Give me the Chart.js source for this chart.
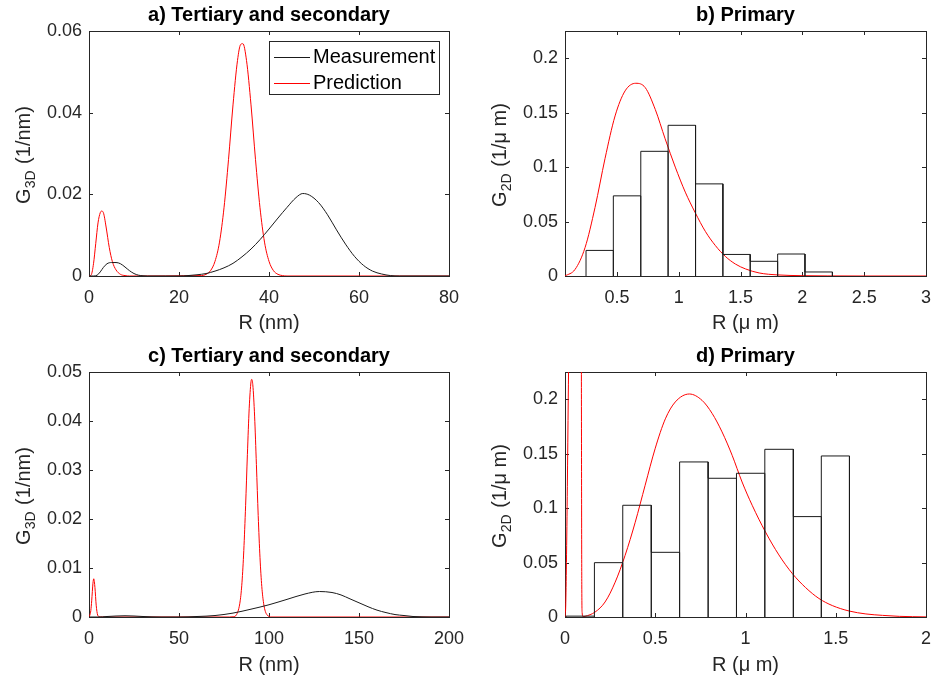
<!DOCTYPE html>
<html>
<head>
<meta charset="utf-8">
<script src="https://cdn.jsdelivr.net/npm/chart.js@4.4.1/dist/chart.umd.min.js"></script>
<style>
html, body { margin: 0; padding: 0; background: #fff; }
#wrap { position: relative; width: 933px; height: 681px; }
canvas { position: absolute; }
</style>
</head>
<body>
<div id="wrap">
	<canvas id="ca" width="466" height="340" style="left:0;top:0"></canvas>
	<canvas id="cb" width="467" height="340" style="left:466px;top:0"></canvas>
	<canvas id="cc" width="466" height="341" style="left:0;top:340px"></canvas>
	<canvas id="cd" width="467" height="341" style="left:466px;top:340px"></canvas>
</div>
<script>
// a) tertiary and secondary, R in nm
const aMeasR = [0, 1, 1.8, 2.5, 3.2, 4, 5, 6, 7, 8, 9, 10, 11, 12, 13, 20, 22, 24, 26, 28, 30, 32, 34, 36, 38, 40, 42, 44, 46, 47.5, 49, 51, 53, 55, 57, 59, 61, 63, 65, 67, 69, 80];
const aMeasG = [0, 0, 0.0002, 0.001, 0.0021, 0.003, 0.0033, 0.0033, 0.003, 0.0022, 0.0013, 0.0006, 0.0002, 0.00005, 0, 0, 0.0001, 0.0003, 0.0006, 0.0012, 0.002, 0.0031, 0.0047, 0.0066, 0.0089, 0.0115, 0.0142, 0.0168, 0.0192, 0.0202, 0.0198, 0.018, 0.015, 0.0113, 0.0078, 0.0048, 0.0026, 0.0012, 0.0005, 0.0001, 0, 0];
const aPredR = [0, 0.5, 1, 1.5, 2, 2.5, 2.8, 3.2, 3.8, 4.5, 5.2, 6, 7, 8, 9, 25, 26, 27, 28, 29, 30, 31, 32, 33, 33.7, 34.2, 35, 36, 37, 38, 39, 40, 41, 42, 43, 44, 80];
const aPredG = [0, 0.0003, 0.003, 0.008, 0.013, 0.0155, 0.0159, 0.0155, 0.012, 0.007, 0.0035, 0.0015, 0.0004, 0.0001, 0, 0.0001, 0.0004, 0.0013, 0.0036, 0.0083, 0.0167, 0.0285, 0.0419, 0.0528, 0.0567, 0.0569, 0.0528, 0.0419, 0.0285, 0.0167, 0.0083, 0.0036, 0.0013, 0.0004, 0.0001, 0, 0];
const aXTicks = [0, 20, 40, 60, 80];
const aYTicks = [0, 0.02, 0.04, 0.06];

// b) primary, R in um
const bEdges = [0.250, 0.471, 0.693, 0.914, 1.136, 1.357, 1.578, 1.800, 2.021, 2.243];
const bHeights = [0.0235, 0.0736, 0.1145, 0.1384, 0.0846, 0.0198, 0.0135, 0.0202, 0.0037];
const bPredR = [0.08, 0.161, 0.242, 0.323, 0.404, 0.485, 0.566, 0.653, 0.729, 0.81, 0.89, 0.972, 1.053, 1.134, 1.215, 1.296, 1.377, 1.458, 1.54, 1.65, 1.8, 2.0, 2.2, 2.5, 3.0];
const bPredG = [0, 0.006, 0.026, 0.063, 0.108, 0.147, 0.170, 0.177, 0.173, 0.153, 0.126, 0.100, 0.077, 0.058, 0.041, 0.028, 0.018, 0.011, 0.0065, 0.0028, 0.001, 0.0003, 0.0001, 0, 0];
const bXTicks = [0.5, 1, 1.5, 2, 2.5, 3];
const bYTicks = [0, 0.05, 0.1, 0.15, 0.2];

// c) tertiary and secondary, R in nm
const cMeasR = [0, 5, 10, 15, 20, 25, 30, 35, 40, 50, 60, 70, 80, 90, 100, 110, 120, 128, 135, 140, 145, 150, 155, 160, 165, 170, 175, 180, 185, 190, 200];
const cMeasG = [0, 0, 0.0001, 0.0002, 0.00025, 0.0002, 0.0001, 0.00003, 0, 0, 0.0001, 0.0003, 0.0008, 0.0016, 0.0025, 0.0036, 0.0047, 0.0052, 0.005, 0.0045, 0.0037, 0.0029, 0.0021, 0.0014, 0.0009, 0.0005, 0.0003, 0.0001, 0.00003, 0, 0];
const cPredR = [0, 0.5, 1, 1.5, 2.2, 2.65, 3.3, 4, 4.8, 5.5, 6.5, 78, 80, 82, 84, 85, 86, 87, 88, 89, 90, 90.4, 91, 92, 93, 94, 95, 96, 97, 98, 99, 100, 101, 200];
const cPredG = [0, 0.0004, 0.0013, 0.0033, 0.0069, 0.0078, 0.006, 0.0024, 0.0004, 0.0001, 0, 0, 0.00004, 0.0005, 0.0033, 0.0071, 0.0136, 0.0227, 0.0332, 0.0426, 0.048, 0.0485, 0.0474, 0.041, 0.0311, 0.0207, 0.0121, 0.0062, 0.0028, 0.0011, 0.0004, 0.0001, 0, 0];
const cXTicks = [0, 50, 100, 150, 200];
const cYTicks = [0, 0.01, 0.02, 0.03, 0.04, 0.05];

// d) primary, R in um
const dEdges = [0.006, 0.163, 0.320, 0.478, 0.635, 0.793, 0.950, 1.107, 1.265, 1.420, 1.576];
const dHeights = [0.0008, 0.0499, 0.1026, 0.0594, 0.1424, 0.1274, 0.132, 0.154, 0.0922, 0.1479];
const dPredR = [0, 0.004, 0.008, 0.013, 0.018, 0.025, 0.05, 0.088, 0.091, 0.093, 0.095, 0.1, 0.111, 0.167, 0.222, 0.278, 0.333, 0.389, 0.444, 0.5, 0.556, 0.611, 0.689, 0.759, 0.815, 0.87, 0.926, 0.981, 1.037, 1.111, 1.185, 1.259, 1.333, 1.407, 1.481, 1.574, 1.667, 1.759, 1.852, 2.0];
const dPredG = [0, 0.01, 0.05, 0.12, 0.2, 0.3, 0.6, 0.6, 0.2, 0.03, 0.004, 0.0003, 0.0006, 0.0046, 0.0138, 0.032, 0.0566, 0.087, 0.121, 0.155, 0.182, 0.1975, 0.2048, 0.199, 0.187, 0.17, 0.1485, 0.124, 0.1026, 0.078, 0.057, 0.040, 0.027, 0.017, 0.0105, 0.0055, 0.0028, 0.0015, 0.0006, 0.0001];
const dXTicks = [0, 0.5, 1, 1.5, 2];
const dYTicks = [0, 0.05, 0.1, 0.15, 0.2];

const FONT = '"Liberation Sans", Arial, Helvetica, sans-serif';
const AXIS = '#262626';
const MEAS_COLOR = '#1a1a1a';
const PRED_COLOR = '#ff0000';

Chart.defaults.font.family = FONT;
Chart.defaults.color = AXIS;

const zip = (xs, ys) => xs.map((x, i) => ({ x: x, y: ys[i] }));

// outline of a histogram, every bar edge goes down to zero
function histOutline(edges, heights) {
	let pts = [];
	heights.forEach((h, i) => {
		pts.push({ x: edges[i], y: 0 }, { x: edges[i], y: h }, { x: edges[i + 1], y: h }, { x: edges[i + 1], y: 0 });
	});
	return pts;
}

// matlab style box with inward ticks on all sides, title centred on the axes
const boxPlugin = {
	id: 'box',
	beforeDatasetsDraw(chart, args, o) {
		const { ctx, chartArea: a, scales } = chart;
		const x = scales.x, y = scales.y;
		ctx.save();
		ctx.strokeStyle = AXIS;
		ctx.lineWidth = 1;
		ctx.beginPath();
		x.ticks.forEach(t => {
			const px = Math.round(x.getPixelForValue(t.value)) + 0.5;
			ctx.moveTo(px, a.bottom); ctx.lineTo(px, a.bottom - 4);
			ctx.moveTo(px, a.top); ctx.lineTo(px, a.top + 4);
		});
		y.ticks.forEach(t => {
			const py = Math.round(y.getPixelForValue(t.value)) + 0.5;
			ctx.moveTo(a.left, py); ctx.lineTo(a.left + 4, py);
			ctx.moveTo(a.right, py); ctx.lineTo(a.right - 4, py);
		});
		ctx.stroke();
		ctx.strokeRect(a.left + 0.5, a.top + 0.5, a.right - a.left, a.bottom - a.top);

		ctx.fillStyle = '#000';
		ctx.font = 'bold 20px ' + FONT;
		ctx.textAlign = 'center';
		ctx.textBaseline = 'middle';
		ctx.fillText(o.text, (a.left + a.right) / 2, o.y);
		ctx.restore();
	}
};

// rotated y label with a subscript
const yLabelPlugin = {
	id: 'ylab',
	afterDraw(chart, args, o) {
		if (!o.main) return;
		const { ctx, chartArea: a } = chart;
		const big = '20px ' + FONT, small = '14px ' + FONT;
		ctx.save();
		ctx.translate(a.left - 65, (a.top + a.bottom) / 2 + 2);
		ctx.rotate(-Math.PI / 2);
		ctx.font = big;
		const w1 = ctx.measureText(o.main).width;
		const w3 = ctx.measureText(o.rest).width;
		ctx.font = small;
		const w2 = ctx.measureText(o.sub).width;
		const x0 = -(w1 + w2 + w3) / 2;
		ctx.fillStyle = AXIS;
		ctx.textBaseline = 'middle';
		ctx.font = big;
		ctx.fillText(o.main, x0, 0);
		ctx.font = small;
		ctx.fillText(o.sub, x0 + w1, 7);
		ctx.font = big;
		ctx.fillText(o.rest, x0 + w1 + w2 + 1, 0);
		ctx.restore();
	}
};

// legend box in the upper right of the axes
const legendPlugin = {
	id: 'legbox',
	afterDatasetsDraw(chart, args, o) {
		if (!o.show) return;
		const { ctx, chartArea: a } = chart;
		const w = 170, h = 53;
		const left = a.right - 10 - w, top = a.top + 10;
		ctx.save();
		ctx.fillStyle = '#fff';
		ctx.fillRect(left, top, w, h);
		ctx.strokeStyle = AXIS;
		ctx.lineWidth = 1;
		ctx.strokeRect(left + 0.5, top + 0.5, w, h);
		ctx.font = '20px ' + FONT;
		ctx.textBaseline = 'middle';
		chart.data.datasets.forEach((ds, i) => {
			const yy = top + 16 + i * 26 + 0.5;
			ctx.strokeStyle = i === 0 ? MEAS_COLOR : PRED_COLOR;
			ctx.lineWidth = 1;
			ctx.beginPath();
			ctx.moveTo(left + 5, yy);
			ctx.lineTo(left + 41, yy);
			ctx.stroke();
			ctx.fillStyle = '#000';
			ctx.fillText(ds.label, left + 44, yy);
		});
		ctx.restore();
	}
};

function makeChart(id, p) {
	const ctx = document.getElementById(id);
	return new Chart(ctx, {
		type: 'line',
		data: { datasets: p.datasets },
		plugins: [boxPlugin, yLabelPlugin, legendPlugin],
		options: {
			responsive: false,
			animation: false,
			devicePixelRatio: 1,
			layout: { padding: { left: 0, right: p.padRight, top: p.padTop, bottom: 0 } },
			elements: { point: { radius: 0 }, line: { borderWidth: 1, tension: 0 } },
			plugins: {
				legend: { display: false },
				tooltip: { enabled: false },
				title: { display: false },
				box: { text: p.title, y: p.titleY },
				ylab: p.ylab,
				legbox: { show: p.legend },
			},
			scales: {
				x: {
					type: 'linear',
					min: p.xMin,
					max: p.xMax,
					grid: { display: false, drawTicks: false },
					border: { display: false },
					ticks: { font: { size: 18 }, padding: 11, maxRotation: 0, callback: v => String(v) },
					afterBuildTicks: s => { s.ticks = p.xTicks.map(v => ({ value: v })); },
					afterFit: s => {
						s.height = p.xHeight;
						s.paddingLeft = 0;
						s.paddingRight = 0;
					},
					title: { display: true, text: p.xTitle, font: { size: 20 }, padding: { top: 0, bottom: p.xTitleBottom } },
				},
				y: {
					type: 'linear',
					min: p.yMin,
					max: p.yMax,
					grid: { display: false, drawTicks: false },
					border: { display: false },
					ticks: { font: { size: 18 }, padding: 7, callback: v => String(v) },
					afterBuildTicks: s => { s.ticks = p.yTicks.map(v => ({ value: v })); },
					afterFit: s => {
						s.width = p.yWidth;
						s.paddingTop = 0;
						s.paddingBottom = 0;
					},
				},
			},
		},
	});
}

const measStyle = { borderColor: MEAS_COLOR, borderWidth: 1, fill: false, cubicInterpolationMode: 'monotone' };
const histStyle = { borderColor: MEAS_COLOR, borderWidth: 1, fill: false };
const predStyle = { borderColor: PRED_COLOR, borderWidth: 1, fill: false, cubicInterpolationMode: 'monotone' };

makeChart('ca', {
	title: 'a) Tertiary and secondary', titleY: 15, padTop: 31,
	datasets: [
		Object.assign({ label: 'Measurement', data: zip(aMeasR, aMeasG) }, measStyle),
		Object.assign({ label: 'Prediction', data: zip(aPredR, aPredG) }, predStyle),
	],
	xMin: 0, xMax: 80, yMin: 0, yMax: 0.06, xTicks: aXTicks, yTicks: aYTicks,
	xTitle: 'R (nm)', xTitleBottom: 5, xHeight: 64, yWidth: 89, padRight: 17,
	ylab: { main: 'G', sub: '3D', rest: ' (1/nm)' }, legend: true,
});

makeChart('cb', {
	title: 'b) Primary', titleY: 15, padTop: 31,
	datasets: [
		Object.assign({ label: 'Measurement', data: histOutline(bEdges, bHeights) }, histStyle),
		Object.assign({ label: 'Prediction', data: zip(bPredR, bPredG) }, predStyle),
	],
	xMin: 0.08, xMax: 3, yMin: 0, yMax: 0.225, xTicks: bXTicks, yTicks: bYTicks,
	xTitle: 'R (\u03bc m)', xTitleBottom: 5, xHeight: 64, yWidth: 99, padRight: 7,
	ylab: { main: 'G', sub: '2D', rest: ' (1/\u03bc m)' }, legend: false,
});

makeChart('cc', {
	title: 'c) Tertiary and secondary', titleY: 16, padTop: 32,
	datasets: [
		Object.assign({ label: 'Measurement', data: zip(cMeasR, cMeasG) }, measStyle),
		Object.assign({ label: 'Prediction', data: zip(cPredR, cPredG) }, predStyle),
	],
	xMin: 0, xMax: 200, yMin: 0, yMax: 0.05, xTicks: cXTicks, yTicks: cYTicks,
	xTitle: 'R (nm)', xTitleBottom: 4, xHeight: 64, yWidth: 89, padRight: 17,
	ylab: { main: 'G', sub: '3D', rest: ' (1/nm)' }, legend: false,
});

makeChart('cd', {
	title: 'd) Primary', titleY: 16, padTop: 32,
	datasets: [
		Object.assign({ label: 'Measurement', data: histOutline(dEdges, dHeights) }, histStyle),
		Object.assign({ label: 'Prediction', data: zip(dPredR, dPredG) }, predStyle),
	],
	xMin: 0, xMax: 2, yMin: 0, yMax: 0.225, xTicks: dXTicks, yTicks: dYTicks,
	xTitle: 'R (\u03bc m)', xTitleBottom: 4, xHeight: 64, yWidth: 99, padRight: 7,
	ylab: { main: 'G', sub: '2D', rest: ' (1/\u03bc m)' }, legend: false,
});
</script>
</body>
</html>
